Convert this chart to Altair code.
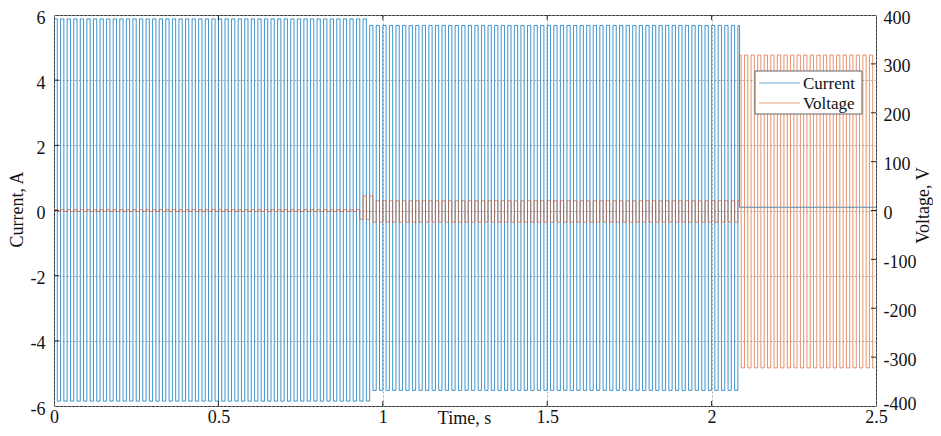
import altair as alt
import pandas as pd

# ---- data ----
FREQ_HZ = 50.0

# current: segment start/end times (s) and square-wave levels (A)
cur_start = [0.0, 0.96, 2.085]
cur_end = [0.96, 2.085, 2.5]
cur_hi = [5.88, 5.68, 0.1]
cur_lo = [-5.85, -5.52, 0.1]

# voltage: segment start/end times (s) and square-wave levels (V)
volt_start = [0.0, 0.93, 0.97, 2.085]
volt_end = [0.93, 0.97, 2.085, 2.495]
volt_hi = [2.0, 30.0, 20.0, 318.0]
volt_lo = [-2.0, -18.0, -24.0, -322.0]

x_ticks = [0, 0.5, 1, 1.5, 2, 2.5]
cur_ticks = [-6, -4, -2, 0, 2, 4, 6]
volt_ticks = [-400, -300, -200, -100, 0, 100, 200, 300, 400]
series_names = ["Current", "Voltage"]

BLUE = "#0072BD"
ORANGE = "#D95319"
FONT = "Liberation Serif"


def square(starts, ends, his, los, name):
    rows = []
    half = 0.5 / FREQ_HZ
    i = 0
    for s, e, hi, lo in zip(starts, ends, his, los):
        k = int(s / half + 1e-9)
        t = s
        while t < e - 1e-9:
            nxt = min((k + 1) * half, e)
            lvl = hi if k % 2 == 0 else lo
            rows.append({"t": t, "v": lvl, "i": i, "series": name}); i += 1
            rows.append({"t": nxt, "v": lvl, "i": i, "series": name}); i += 1
            t = nxt
            k += 1
    return pd.DataFrame(rows)


cur_df = square(cur_start, cur_end, cur_hi, cur_lo, series_names[0])
volt_df = square(volt_start, volt_end, volt_hi, volt_lo, series_names[1])

W, H = 822, 391

xs = alt.Scale(domain=[0, 2.5], nice=False, zero=False)
cs = alt.Scale(domain=[-6, 6], nice=False, zero=False)
vs = alt.Scale(domain=[-400, 400], nice=False, zero=False)

LBL = "toString(datum.value)"

x_axis = alt.Axis(values=x_ticks, title="Time, s", grid=True, gridDash=[2, 2],
                  gridColor="#9a9a9a", gridOpacity=0.8, ticks=False, domain=False,
                  labelFlush=False, labelOverlap=False, labelPadding=2, labelExpr=LBL,
                  labelFont=FONT, labelFontSize=18, labelColor="#111",
                  titleFont=FONT, titleFontSize=18, titleFontWeight="normal",
                  titleColor="#111", titleX=410, titleY=17,
                  titleBaseline="alphabetic", titleAlign="center")

left_axis = alt.Axis(values=cur_ticks, title="Current, A", grid=True, gridDash=[2, 2],
                     gridColor="#9a9a9a", gridOpacity=0.8, ticks=False, domain=False,
                     labelPadding=9, labelExpr=LBL, labelOffset=3,
                     labelFont=FONT, labelFontSize=18, labelColor="#111",
                     titleFont=FONT, titleFontSize=18, titleFontWeight="normal",
                     titleColor="#111", titleAngle=270, titleX=-37, titleY=194,
                     titleAlign="center", titleBaseline="middle")

right_axis = alt.Axis(values=volt_ticks, orient="right", title="Voltage, V", grid=False,
                      ticks=False, domain=False, labelExpr=LBL,
                      labelOffset={"condition": {"test": "datum.value == -400", "value": -2},
                                   "value": 3},
                      labelPadding=7, labelFont=FONT, labelFontSize=18, labelColor="#111",
                      titleFont=FONT, titleFontSize=18, titleFontWeight="normal",
                      titleColor="#111", titleAngle=270, titleX=47, titleY=190,
                      titleAlign="center", titleBaseline="middle")

cur_line = alt.Chart(cur_df).mark_line(strokeWidth=1, opacity=0.75, clip=True, color=BLUE).encode(
    x=alt.X("t:Q", scale=xs, axis=x_axis),
    y=alt.Y("v:Q", scale=cs, axis=left_axis),
    order="i:Q",
)

volt_line = alt.Chart(volt_df).mark_line(strokeWidth=0.9, opacity=0.7, clip=True, color=ORANGE).encode(
    x=alt.X("t:Q", scale=xs, axis=x_axis),
    y=alt.Y("v:Q", scale=vs, axis=right_axis),
    order="i:Q",
)

xt_df = pd.DataFrame({"t": x_ticks[1:-1]})
ct_df = pd.DataFrame({"v": cur_ticks[1:-1]})
vt_df = pd.DataFrame({"v": volt_ticks[1:-1]})

tick_color = "#262626"
bottom_ticks = alt.Chart(xt_df).mark_rule(color=tick_color, strokeWidth=1).encode(
    x=alt.X("t:Q", scale=xs, axis=x_axis), y=alt.value(H), y2=alt.value(H - 5))
top_ticks = alt.Chart(xt_df).mark_rule(color=tick_color, strokeWidth=1).encode(
    x=alt.X("t:Q", scale=xs, axis=x_axis), y=alt.value(0), y2=alt.value(5))
left_ticks = alt.Chart(ct_df).mark_rule(color=tick_color, strokeWidth=1).encode(
    y=alt.Y("v:Q", scale=cs, axis=None), x=alt.value(0), x2=alt.value(5))
right_ticks = alt.Chart(vt_df).mark_rule(color=tick_color, strokeWidth=1).encode(
    y=alt.Y("v:Q", scale=vs, axis=None), x=alt.value(W), x2=alt.value(W - 5))

# manual legend box (positions in plot pixels)
one = pd.DataFrame({"a": [0]})
LX, LY, LW, LH = 701, 56, 107, 43
leg_box = alt.Chart(one).mark_rect(fill="white", stroke="#666", strokeWidth=1).encode(
    x=alt.value(LX), x2=alt.value(LX + LW), y=alt.value(LY), y2=alt.value(LY + LH))
leg_layers = [leg_box]
for k, (name, col) in enumerate(zip(series_names, [BLUE, ORANGE])):
    yy = LY + 12 + 20 * k
    leg_layers.append(alt.Chart(one).mark_rule(color=col, strokeWidth=1, opacity=0.55).encode(
        x=alt.value(LX + 4), x2=alt.value(LX + 45), y=alt.value(yy)))
    leg_layers.append(alt.Chart(one).mark_text(font=FONT, fontSize=17, color="#111",
                                               align="left", baseline="middle").encode(
        x=alt.value(LX + 48), y=alt.value(yy + 1), text=alt.value(name)))

chart = alt.layer(cur_line, volt_line, bottom_ticks, top_ticks, left_ticks, right_ticks,
                  *leg_layers).resolve_scale(
    y="independent"
).properties(
    width=W, height=H,
    autosize=alt.AutoSizeParams(type="none"),
    padding={"left": 46, "top": 7, "right": 57, "bottom": 22},
    background="white",
).configure_view(stroke="#262626", strokeWidth=1)

chart.save("out.html", embed_options={"renderer": "svg", "actions": False})
